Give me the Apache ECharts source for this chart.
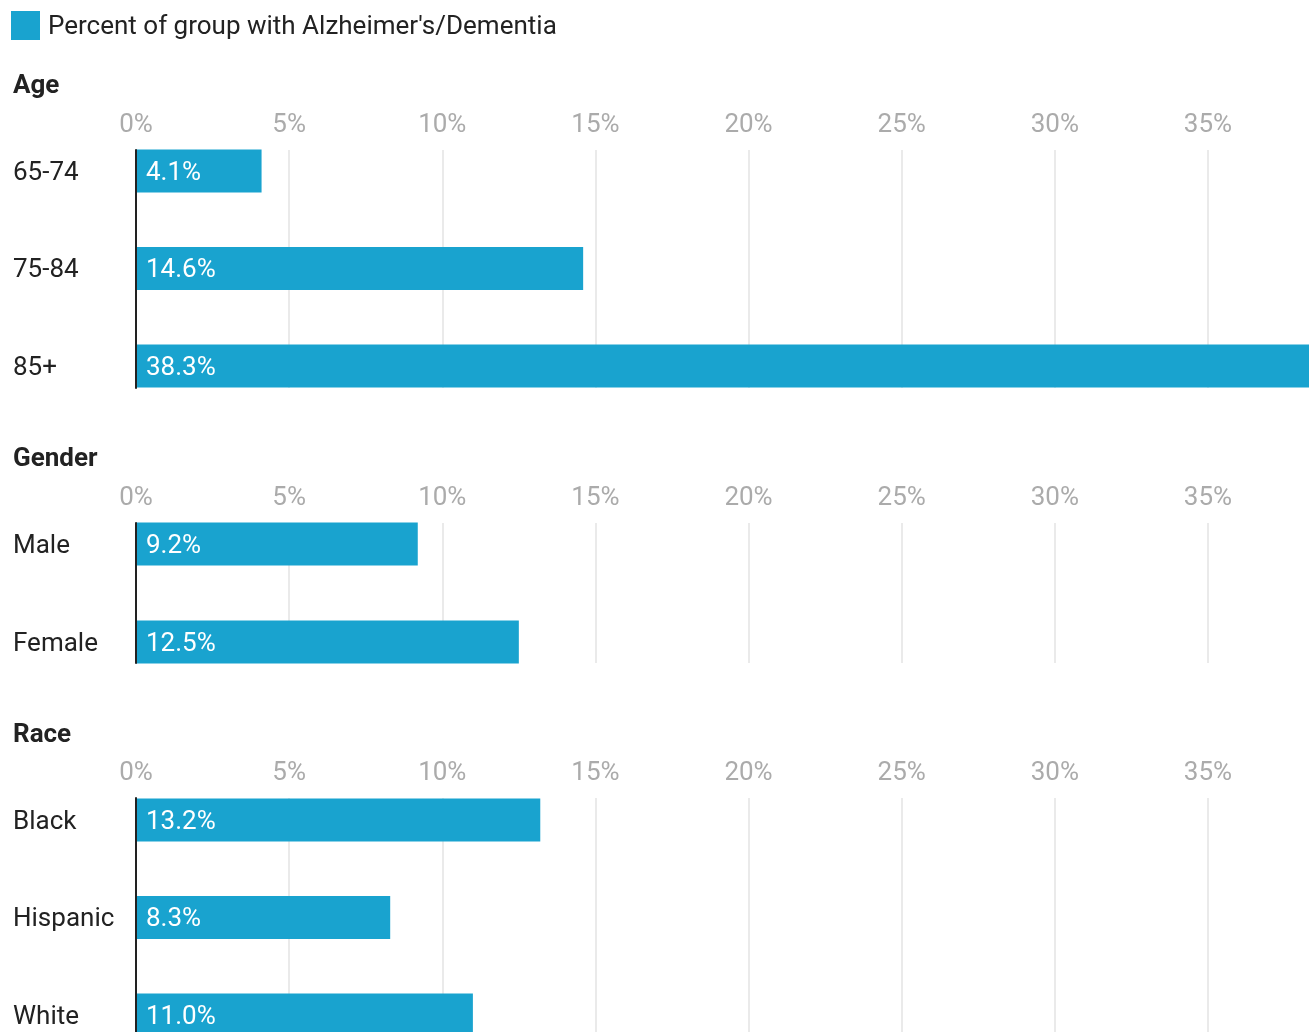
<!DOCTYPE html>
<html>
<head>
<meta charset="utf-8">
<script src="https://cdn.jsdelivr.net/npm/echarts@6/dist/echarts.min.js"></script>
<style>html,body{margin:0;padding:0;background:#fff;overflow:hidden}#c{width:1312px;height:1100px}</style>
</head>
<body>
<div id="c"></div>
<script>
const seriesName = "Percent of group with Alzheimer's/Dementia";
const ageCats = ['65-74', '75-84', '85+'];
const ageVals = [4.1, 14.6, 38.3];
const genderCats = ['Male', 'Female'];
const genderVals = [9.2, 12.5];
const raceCats = ['Black', 'Hispanic', 'White'];
const raceVals = [13.2, 8.3, 11.0];
const tickStep = 5;
const axisMax = 38.3;

const BAR = '#19a3cf';
const FONT = 'Roboto';

const sections = [
  { title: 'Age', cats: ageCats, vals: ageVals, headY: 86, barTop: 122.25, band: 97.5, decoTop: 150, decoH: 238 },
  { title: 'Gender', cats: genderCats, vals: genderVals, headY: 459, barTop: 495, band: 98, decoTop: 523, decoH: 140 },
  { title: 'Race', cats: raceCats, vals: raceVals, headY: 735, barTop: 771.25, band: 97.5, decoTop: 798, decoH: 238 }
];

const grid = [], xAxis = [], yAxis = [], series = [], graphic = [];
sections.forEach((s, i) => {
  const gb = grid.length;
  grid.push({ left: 136, right: 3, top: s.barTop, height: s.band * s.cats.length, containLabel: false });
  grid.push({ left: 136, right: 3, top: s.decoTop, height: s.decoH, containLabel: false });
  xAxis.push({ type: 'value', gridIndex: gb, min: 0, max: axisMax, show: false });
  xAxis.push({
    type: 'value', gridIndex: gb + 1, min: 0, max: axisMax, interval: tickStep, position: 'top',
    axisLine: { show: false }, axisTick: { show: false },
    axisLabel: {
      show: true, margin: 25, verticalAlign: 'middle', color: '#ababab', fontSize: 26, fontFamily: FONT,
      showMaxLabel: false,
      formatter: v => (Math.abs(v % tickStep) < 1e-9 ? v + '%' : '')
    },
    splitLine: { show: true, showMaxLine: false, lineStyle: { color: '#e3e3e3', width: 1.5 } }
  });
  yAxis.push({
    type: 'category', gridIndex: gb, inverse: true, data: s.cats,
    axisLine: { show: false }, axisTick: { show: false }, splitLine: { show: false },
    axisLabel: {
      align: 'left', margin: 123, color: '#222', fontSize: 26, fontFamily: FONT,
      formatter: v => '{c|' + v + '}',
      rich: { c: { color: '#222', fontSize: 26, fontFamily: FONT, padding: [4, 0, 0, 0] } }
    }
  });
  yAxis.push({
    type: 'value', gridIndex: gb + 1, min: 0, max: 1, z: 10,
    axisLine: { show: true, lineStyle: { color: '#222', width: 2 } },
    axisTick: { show: false }, axisLabel: { show: false }, splitLine: { show: false }
  });
  series.push({
    name: seriesName, type: 'bar', xAxisIndex: gb, yAxisIndex: gb,
    data: s.vals, barWidth: 43,
    itemStyle: { color: BAR },
    label: {
      show: true, position: 'insideLeft', distance: 10, offset: [0, 2], color: '#fff', fontSize: 26, fontFamily: FONT,
      formatter: p => p.value.toFixed(1) + '%'
    },
    emphasis: { disabled: true }
  });
  graphic.push({
    type: 'text', x: 13, y: s.headY,
    style: { text: s.title, font: 'bold 26px ' + FONT, fill: '#222', verticalAlign: 'middle', align: 'left' }
  });
});

const chart = echarts.init(document.getElementById('c'), null, { renderer: 'canvas' });
chart.setOption({
  animation: false,
  backgroundColor: '#fff',
  textStyle: { fontFamily: FONT },
  legend: {
    left: 11, top: 11, padding: 0, itemWidth: 29, itemHeight: 29, icon: 'rect',
    data: [seriesName],
    formatter: n => '{l|' + n + '}',
    textStyle: {
      fontSize: 26, color: '#222', fontFamily: FONT,
      rich: { l: { fontSize: 26, color: '#222', fontFamily: FONT, padding: [4, 0, 0, 3] } }
    }
  },
  grid, xAxis, yAxis, series, graphic
});
</script>
</body>
</html>
